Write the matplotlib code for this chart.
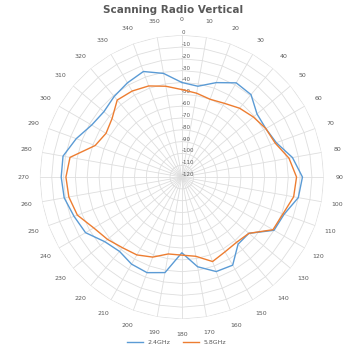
import numpy as np
import matplotlib.pyplot as plt

# azimuth categories (degrees) and measured signal per band (dBm)
angles_deg = list(range(0, 360, 10))
cat_labels = [str(a) for a in angles_deg]
ghz24 = [-40, -42, -35, -28, -29, -37, -38, -35, -25, -18, -20, -28,
         -30, -46, -46, -34, -35, -43, -56, -38, -34, -35, -38, -35,
         -26, -23, -19, -18, -18, -25, -32, -34, -31, -28, -25, -31]
ghz58 = [-46, -48, -50, -48, -44, -41, -38, -36, -28, -23, -24, -29,
         -31, -46, -48, -47, -44, -52, -54, -54, -48, -44, -42, -38,
         -34, -26, -23, -22, -24, -42, -46, -43, -35, -36, -38, -42]
rings = list(range(-120, 1, 10))
series_names = ['2.4GHz', '5.8GHz']

theta = np.deg2rad(angles_deg)
theta_c = np.append(theta, theta[0])

fig = plt.figure(figsize=(3.47, 3.51), dpi=100)
ax = fig.add_axes([0.115, 0.091, 0.818, 0.809], projection='polar')
ax.set_theta_zero_location('N')
ax.set_theta_direction(-1)
ax.set_ylim(rings[0], rings[-1])
ax.grid(False)
ax.spines['polar'].set_visible(False)

# polygon gridlines like a spreadsheet radar chart
for r in rings[1:]:
    ax.plot(theta_c, [r] * len(theta_c), color='#dedede', lw=0.6, zorder=1)
for t in theta:
    ax.plot([t, t], [rings[0], rings[-1]], color='#dedede', lw=0.6, zorder=1)

ax.plot(theta_c, ghz24 + ghz24[:1], color='#5b9bd5', lw=1.0, label=series_names[0], zorder=3)
ax.plot(theta_c, ghz58 + ghz58[:1], color='#ed7d31', lw=1.0, label=series_names[1], zorder=3)

ax.set_xticks(theta)
ax.set_xticklabels(cat_labels, fontsize=4.5, color='#595959')
ax.tick_params(axis='x', pad=1)
ax.set_yticks(rings)
ax.set_yticklabels([str(r) for r in rings], fontsize=4, color='#595959')
ax.set_rlabel_position(0)

fig.suptitle('Scanning Radio Vertical', y=0.985, fontsize=7.5, fontweight='bold', color='#595959')
fig.legend(loc='lower center', bbox_to_anchor=(0.51, 0.0), ncol=2, frameon=False,
           fontsize=4.5, handlelength=2.5, labelcolor='#595959')

fig.savefig('out.png', dpi=100)
